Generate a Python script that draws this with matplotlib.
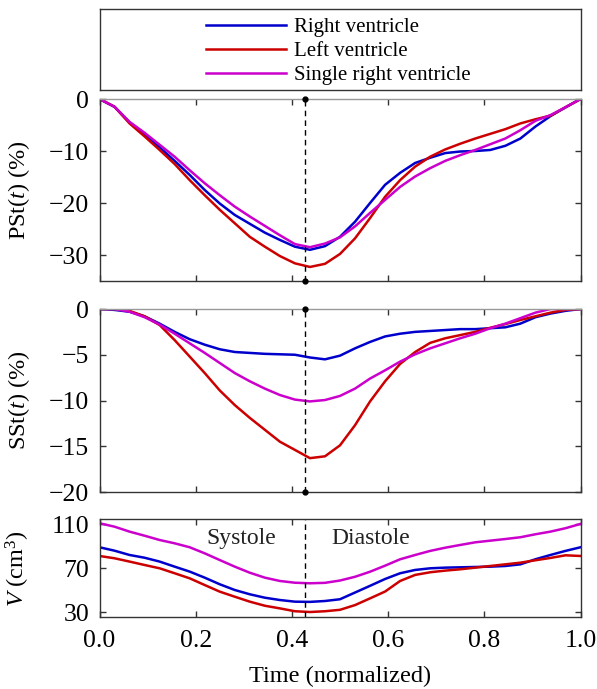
import numpy as np
import matplotlib
matplotlib.use('Agg')
import matplotlib.pyplot as plt

plt.rcParams['font.family'] = ['Liberation Serif', 'DejaVu Serif']
plt.rcParams['mathtext.fontset'] = 'custom'
plt.rcParams['mathtext.rm'] = 'Liberation Serif'
plt.rcParams['mathtext.it'] = 'Liberation Serif:italic'

# normalized time, 33 samples
t = np.linspace(0, 1, 33)
t_es = 0.427  # end systole

# PSt(t) (%)
pst_rv = [0, -1.5, -4.5, -6.8, -9.3, -11.9, -14.6, -17.5, -20.1, -22.3, -24.0, -25.7, -27.1,
          -28.4, -29.0, -28.3, -26.5, -23.6, -20.0, -16.5, -14.2, -12.3, -11.3, -10.4, -10.1,
          -10.0, -9.8, -9.0, -7.6, -5.3, -3.3, -1.6, 0]
pst_lv = [0, -1.5, -4.7, -7.2, -9.8, -12.5, -15.6, -18.5, -21.3, -23.9, -26.5, -28.4, -30.2,
          -31.6, -32.3, -31.7, -29.8, -26.8, -22.9, -18.8, -15.6, -13.0, -11.1, -9.7, -8.6,
          -7.6, -6.7, -5.8, -4.7, -3.9, -3.2, -1.6, 0]
pst_srv = [0, -1.5, -4.4, -6.5, -8.8, -11.1, -13.7, -16.2, -18.5, -20.7, -22.6, -24.4, -26.2,
           -27.9, -28.5, -27.8, -26.6, -24.5, -21.9, -19.4, -16.9, -14.9, -13.3, -11.9, -10.8,
           -9.8, -8.7, -7.6, -6.0, -4.2, -3.1, -1.6, 0]

# SSt(t) (%)
sst_rv = [0, -0.1, -0.3, -0.8, -1.6, -2.5, -3.3, -3.9, -4.4, -4.7, -4.8, -4.9, -4.95,
          -5.0, -5.3, -5.5, -5.1, -4.3, -3.6, -3.0, -2.7, -2.5, -2.4, -2.3, -2.2,
          -2.2, -2.1, -2.0, -1.6, -0.9, -0.5, -0.2, 0]
sst_lv = [0, 0, -0.2, -0.8, -1.75, -3.4, -5.2, -7.0, -8.9, -10.5, -11.9, -13.2, -14.5,
          -15.4, -16.3, -16.1, -14.9, -12.7, -10.1, -7.9, -6.0, -4.7, -3.7, -3.2, -2.85,
          -2.5, -2.05, -1.65, -1.2, -0.8, -0.4, -0.1, 0]
sst_srv = [0, 0, -0.3, -0.9, -1.7, -2.7, -3.75, -4.8, -5.9, -7.0, -7.9, -8.7, -9.4,
           -9.9, -10.1, -9.95, -9.5, -8.7, -7.6, -6.7, -5.75, -4.95, -4.3, -3.75, -3.2,
           -2.7, -2.1, -1.6, -1.0, -0.4, 0, 0, 0]

# V (cm^3)
vol_rv = [89.1, 86.0, 82.1, 79.6, 76.1, 71.5, 67.0, 61.5, 55.5, 50.3, 46.4, 43.3, 41.2,
          39.7, 39.5, 40.3, 41.9, 48.0, 54.1, 60.3, 65.5, 68.5, 70.0, 70.6, 70.9,
          71.2, 71.5, 72.1, 73.6, 78.2, 82.1, 85.8, 89.1]
vol_lv = [81.2, 79.1, 76.1, 73.0, 70.0, 65.5, 60.9, 54.8, 48.8, 44.2, 39.7, 36.0, 33.6,
          31.0, 30.3, 31.0, 32.3, 36.6, 42.7, 48.9, 58.5, 64.0, 66.4, 67.9, 69.1,
          70.6, 72.1, 73.6, 75.1, 77.3, 79.4, 81.8, 81.2]
vol_srv = [110.9, 107.8, 103.3, 99.6, 95.7, 92.7, 89.1, 83.6, 77.5, 71.5, 66.0, 61.5, 58.5,
           56.9, 56.4, 56.8, 58.9, 62.3, 66.9, 72.4, 78.2, 82.1, 85.8, 88.7, 91.2,
           93.6, 95.1, 96.6, 98.2, 100.9, 103.3, 106.4, 110.3]

labels = ['Right ventricle', 'Left ventricle', 'Single right ventricle']
colors = ['#0000cc', '#cc0000', '#cc00cc']

fig = plt.figure(figsize=(5.97, 6.89), dpi=100)
W, H = 597, 689


def add_ax(top, bottom):
    return fig.add_axes([99.5 / W, 1 - bottom / H, 481 / W, (bottom - top) / H])


ax_leg = add_ax(8.5, 90)
ax1 = add_ax(99, 281)
ax2 = add_ax(309, 492)
ax3 = add_ax(519.3, 617.3)

edge = '#333333'
for ax in (ax_leg, ax1, ax2, ax3):
    for s in ax.spines.values():
        s.set_color(edge)
        s.set_linewidth(1.0)

ax_leg.set_xticks([])
ax_leg.set_yticks([])

panels = [
    (ax1, [pst_rv, pst_lv, pst_srv], (-35, 0), [0, -10, -20, -30], 'PSt($t$) (%)'),
    (ax2, [sst_rv, sst_lv, sst_srv], (-20, 0), [0, -5, -10, -15, -20], 'SSt($t$) (%)'),
    (ax3, [vol_rv, vol_lv, vol_srv], (25.5, 114.5), [30, 70, 110], '$V$ (cm$^3$)'),
]

for ax, series, ylim, yticks, ylab in panels:
    for y, c, lab in zip(series, colors, labels):
        ax.plot(t, y, color=c, lw=1.8, label=lab)
    ax.set_xlim(0, 1)
    ax.set_ylim(*ylim)
    ax.set_yticks(yticks)
    ax.set_xticks([0, 0.2, 0.4, 0.6, 0.8, 1.0])
    ax.tick_params(direction='in', top=True, right=True, length=4, width=1,
                   color=edge, labelsize=18.5)
    ax.tick_params(axis='y', pad=7.5)
    ax.tick_params(axis='x', pad=9)
    ax.set_ylabel(ylab, fontsize=17.5)
    if ax is not ax3:
        ax.spines['top'].set_color('#999999')
        ax.tick_params(labelbottom=False)
        ax.plot([t_es, t_es], ylim, color='black', lw=1, ls=(0, (4, 3)),
                marker='o', ms=3.5, clip_on=False, zorder=5)
    else:
        ax.axvline(t_es, color='black', lw=1, ls=(0, (4, 3)))
    ax.yaxis.set_label_coords(-0.14, 0.5)

ax3.set_xticklabels(['0.0', '0.2', '0.4', '0.6', '0.8', '1.0'])
ax3.set_xlabel('Time (normalized)', fontsize=17.5, labelpad=10)
ax3.text(0.295, 97.5, 'Systole', fontsize=17, ha='center', va='center', color='#222222')
ax3.text(0.564, 97.5, 'Diastole', fontsize=17, ha='center', va='center', color='#222222')

handles, labs = ax1.get_legend_handles_labels()
ax_leg.legend(handles, labs, loc='center', frameon=False, fontsize=15,
              handlelength=3.8, handletextpad=0.4, labelspacing=0.22,
              borderpad=0, bbox_to_anchor=(0.497, 0.472))

fig.savefig('out.png', dpi=100)
